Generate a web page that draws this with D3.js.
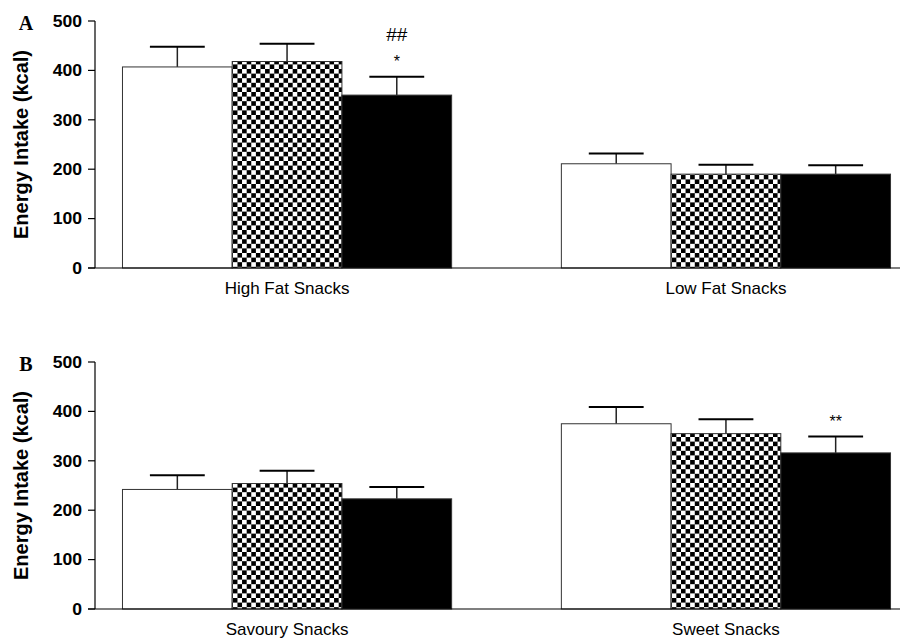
<!DOCTYPE html>
<html>
<head>
<meta charset="utf-8">
<script src="https://cdn.jsdelivr.net/npm/d3@7"></script>
<style>
  body { margin: 0; background: #fff; }
</style>
</head>
<body>
<svg id="chart" width="920" height="640"></svg>
<script>
// groups (the three bars in each category)
const series = ["white", "checker", "black"];

// panel A
const catsA = ["High Fat Snacks", "Low Fat Snacks"];
const meansA = [[407, 418, 350], [211, 190, 190]];
const errA = [[41, 36, 37], [21, 19, 18]];
const marksA = [["", "", "*"], ["", "", ""]];
const marksA2 = [["", "", "##"], ["", "", ""]];

// panel B
const catsB = ["Savoury Snacks", "Sweet Snacks"];
const meansB = [[242, 254, 223], [375, 355, 316]];
const errB = [[29, 26, 24], [34, 29, 33]];
const marksB = [["", "", ""], ["", "", "**"]];
const marksB2 = [["", "", ""], ["", "", ""]];

const yTicks = [0, 100, 200, 300, 400, 500];

const svg = d3.select("#chart");
const sans = "'Liberation Sans', Arial, sans-serif";
const serif = "'Liberation Serif', 'Times New Roman', serif";

// checker pattern
const s = 4.6;
const pat = svg.append("defs").append("pattern")
  .attr("id", "checker")
  .attr("patternUnits", "userSpaceOnUse")
  .attr("width", s * 2).attr("height", s * 2);
pat.append("rect").attr("width", s * 2).attr("height", s * 2).attr("fill", "#fff");
pat.append("rect").attr("width", s).attr("height", s).attr("fill", "#000");
pat.append("rect").attr("x", s).attr("y", s).attr("width", s).attr("height", s).attr("fill", "#000");

const fills = { white: "#fff", checker: "url(#checker)", black: "#000" };

function panel(letter, cats, means, errs, marks, marks2, top, bottom) {
  const g = svg.append("g").style("font-family", sans);
  const axisX = 95;

  const x = d3.scaleBand().domain(cats).range([axisX, 918])
    .paddingInner(0.25).paddingOuter(0.0626);
  const xs = d3.scaleBand().domain(series).range([0, x.bandwidth()]);
  const y = d3.scaleLinear().domain([0, 500]).range([bottom, top]);

  // y axis
  g.append("line").attr("x1", axisX).attr("x2", axisX)
    .attr("y1", y(0)).attr("y2", y(500)).attr("stroke", "#000").attr("stroke-width", 1.2);
  g.selectAll(".tick").data(yTicks).join("line")
    .attr("x1", axisX - 7).attr("x2", axisX)
    .attr("y1", d => y(d)).attr("y2", d => y(d))
    .attr("stroke", "#000").attr("stroke-width", 1.2);
  g.selectAll(".tl").data(yTicks).join("text")
    .attr("transform", d => `translate(${axisX - 13},${y(d)}) scale(1.1,1)`)
    .attr("text-anchor", "end").attr("dy", "0.36em")
    .attr("font-size", 16).attr("font-weight", "bold")
    .text(d => d);

  // y label
  g.append("text")
    .attr("transform", `translate(${28},${(top + bottom) / 2}) rotate(-90)`)
    .attr("text-anchor", "middle")
    .attr("font-size", 20).attr("font-weight", "bold")
    .text("Energy Intake (kcal)");

  // panel letter
  g.append("text")
    .attr("transform", `translate(${26},${top + 9})`)
    .attr("text-anchor", "middle")
    .style("font-family", serif)
    .attr("font-size", 20).attr("font-weight", "bold")
    .text(letter);

  cats.forEach((c, ci) => {
    const cg = g.append("g").attr("transform", `translate(${x(c)},0)`);
    const rows = series.map((k, si) => ({ k, v: means[ci][si], e: errs[ci][si], m: marks[ci][si], m2: marks2[ci][si] }));

    // error bars first, bars over them
    const eb = cg.selectAll(".eb").data(rows).join("g");
    eb.append("line")
      .attr("x1", d => xs(d.k) + xs.bandwidth() / 2).attr("x2", d => xs(d.k) + xs.bandwidth() / 2)
      .attr("y1", d => y(d.v)).attr("y2", d => y(d.v + d.e))
      .attr("stroke", "#222").attr("stroke-width", 1.5);
    eb.append("line")
      .attr("x1", d => xs(d.k) + xs.bandwidth() / 4).attr("x2", d => xs(d.k) + xs.bandwidth() * 3 / 4)
      .attr("y1", d => y(d.v + d.e)).attr("y2", d => y(d.v + d.e))
      .attr("stroke", "#000").attr("stroke-width", 2);

    cg.selectAll(".bar").data(rows).join("rect")
      .attr("x", d => xs(d.k)).attr("width", xs.bandwidth())
      .attr("y", d => y(d.v)).attr("height", d => y(0) - y(d.v))
      .attr("fill", d => fills[d.k])
      .attr("stroke", "#333").attr("stroke-width", 1);

    // significance marks
    cg.selectAll(".mk").data(rows.filter(d => d.m)).join("text")
      .attr("x", d => xs(d.k) + xs.bandwidth() / 2)
      .attr("y", d => y(d.v + d.e) - 10)
      .attr("text-anchor", "middle").attr("font-size", 16)
      .text(d => d.m);
    cg.selectAll(".mk2").data(rows.filter(d => d.m2)).join("text")
      .attr("x", d => xs(d.k) + xs.bandwidth() / 2)
      .attr("y", d => y(d.v + d.e) - 36)
      .attr("text-anchor", "middle").attr("font-size", 19)
      .text(d => d.m2);

    // category label
    g.append("text")
      .attr("x", x(c) + x.bandwidth() / 2).attr("y", bottom + 26)
      .attr("text-anchor", "middle").attr("font-size", 17)
      .text(c);
  });

  // x axis line
  g.append("line").attr("x1", axisX - 7).attr("x2", 900)
    .attr("y1", y(0)).attr("y2", y(0)).attr("stroke", "#000").attr("stroke-width", 1.2);
}

panel("A", catsA, meansA, errA, marksA, marksA2, 21, 268);
panel("B", catsB, meansB, errB, marksB, marksB2, 362, 609);
</script>
</body>
</html>
